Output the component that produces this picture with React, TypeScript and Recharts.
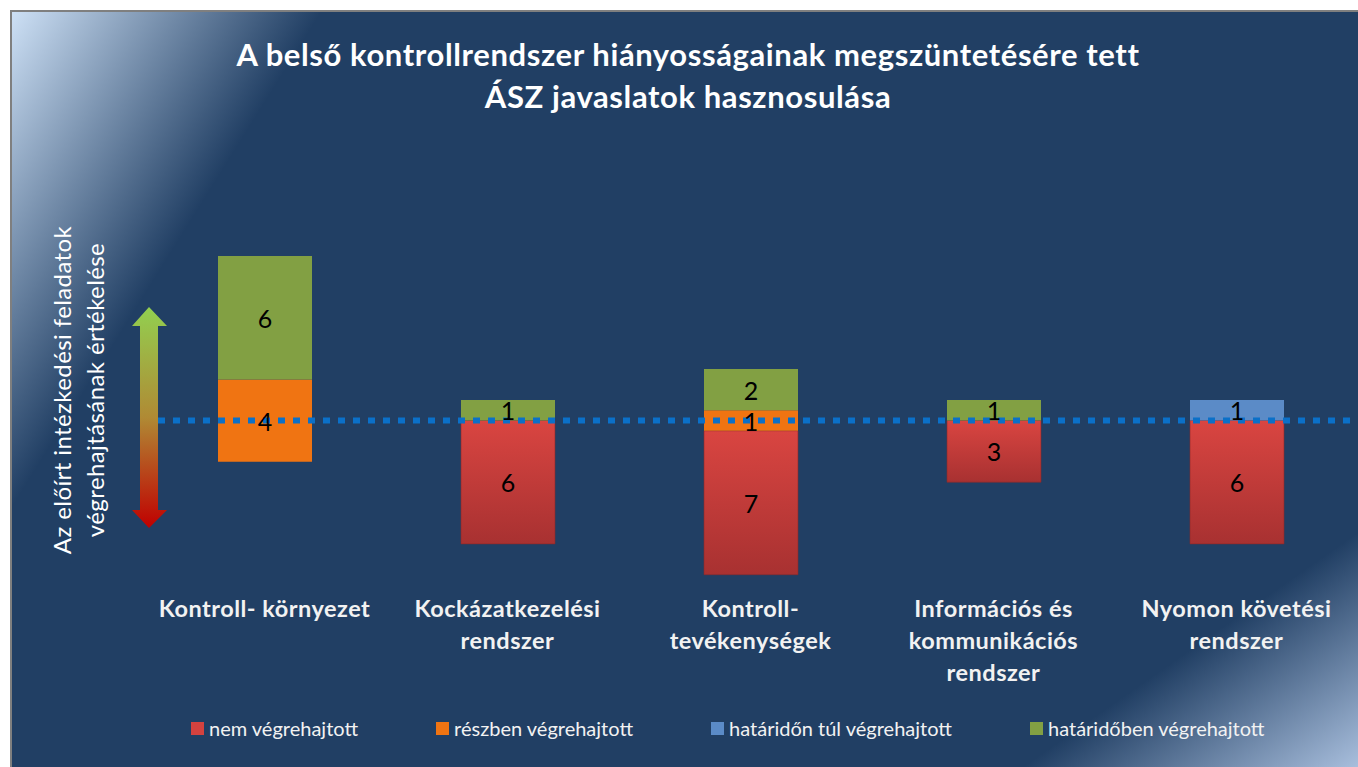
import { BarChart, Bar, XAxis, YAxis, ReferenceLine, LabelList, Legend } from 'recharts'

const categories = [
  'Kontroll- környezet',
  'Kockázatkezelési\nrendszer',
  'Kontroll-\ntevékenységek',
  'Információs és\nkommunikációs\nrendszer',
  'Nyomon követési\nrendszer',
]
const notDone = [0, 6, 7, 3, 6]
const partlyDone = [4, 0, 1, 0, 0]
const lateDone = [0, 0, 0, 0, 1]
const onTimeDone = [6, 1, 2, 1, 0]

const seriesNames = ['nem végrehajtott', 'részben végrehajtott', 'határidőn túl végrehajtott', 'határidőben végrehajtott']
const seriesColors = ['#d4423f', '#f07412', '#5b8bc7', '#82a043']

const FONT = 'Lato, "Open Sans", sans-serif'

// orange straddles the baseline, red hangs below it, blue + green sit on top
const data = categories.map((name, i) => {
  const half = partlyDone[i] / 2
  const top1 = half + lateDone[i]
  return {
    name,
    red: [-half - notDone[i], -half],
    orange: [-half, half],
    blue: [half, top1],
    green: [top1, top1 + onTimeDone[i]],
    redN: notDone[i],
    orangeN: partlyDone[i],
    blueN: lateDone[i],
    greenN: onTimeDone[i],
  }
})

const SegmentLabel = (props: any) => {
  const { x, y, width, height, value } = props
  if (!value) return null
  return (
    <text x={x + width / 2} y={y + height / 2} textAnchor="middle" dominantBaseline="central"
      fontSize={25} fontFamily={FONT} fill="#000">{value}</text>
  )
}

const CategoryTick = ({ x, y, payload }: any) => {
  const lines = String(payload.value).split('\n')
  return (
    <text x={x} y={y} textAnchor="middle" fill="#f2f2f2" fontSize={23.5} fontWeight={700}
      fontFamily={FONT} letterSpacing={0.5}>
      {lines.map((l, i) => (
        <tspan key={i} x={x} dy={32}>{l}</tspan>
      ))}
    </text>
  )
}

const LegendContent = () => (
  <div style={{ display: 'flex', gap: 78, fontFamily: FONT, fontSize: 20, color: '#f2f2f2', whiteSpace: 'nowrap' }}>
    {seriesNames.map((n, i) => (
      <div key={n} style={{ display: 'flex', alignItems: 'center', gap: 5 }}>
        <span style={{ width: 13, height: 13, background: seriesColors[i], display: 'inline-block' }} />
        <span>{n}</span>
      </div>
    ))}
  </div>
)

export default function App() {
  return (
    <div style={{ position: 'relative', width: 1358, height: 767, overflow: 'hidden' }}>
      <style>{'body{margin:0}'}</style>
      <div style={{
        position: 'absolute', left: 10, top: 10, width: 1348, height: 757,
        borderLeft: '2px solid #7f7f7f', borderTop: '2px solid #7f7f7f',
        background: 'linear-gradient(122deg, rgba(205,224,245,1) 0%, rgba(205,224,245,0) 17%), linear-gradient(145deg, rgba(170,192,222,0) 86%, rgba(170,192,222,1) 100%), #213f64',
      }} />

      <div style={{
        position: 'absolute', left: 0, top: 33, width: 1376, textAlign: 'center',
        fontFamily: FONT, fontWeight: 700, fontSize: 31, lineHeight: '42px', color: '#fff', letterSpacing: 0.6,
      }}>
        A belső kontrollrendszer hiányosságainak megszüntetésére tett<br />ÁSZ javaslatok hasznosulása
      </div>

      <div style={{
        position: 'absolute', left: 78, top: 390, width: 420, transform: 'translate(-50%, -50%) rotate(-90deg)',
        textAlign: 'center', fontFamily: FONT, fontSize: 24, lineHeight: '33px', color: '#fff', letterSpacing: 0.4,
      }}>
        Az előírt intézkedési feladatok<br />végrehajtásának értékelése
      </div>

      <div style={{ position: 'absolute', left: 0, top: 0 }}>
        <BarChart width={1358} height={767} data={data} barGap={-94} barSize={94}
          margin={{ top: 256, right: 0, left: 143, bottom: 82 }}>
          <defs>
            <linearGradient id="redGrad" x1="0" y1="0" x2="0" y2="1">
              <stop offset="0%" stopColor="#d94541" />
              <stop offset="100%" stopColor="#a83131" />
            </linearGradient>
          </defs>
          <XAxis dataKey="name" axisLine={false} tickLine={false} tickSize={0} tickMargin={0} height={100}
            interval={0} tick={<CategoryTick />} />
          <YAxis hide domain={[-8, 8]} />
          <Bar dataKey="red" name={seriesNames[0]} fill="url(#redGrad)" stroke="#8c2a2a" strokeWidth={0.6} isAnimationActive={false}>
            <LabelList dataKey="redN" content={<SegmentLabel />} />
          </Bar>
          <Bar dataKey="orange" name={seriesNames[1]} fill={seriesColors[1]} isAnimationActive={false}>
            <LabelList dataKey="orangeN" content={<SegmentLabel />} />
          </Bar>
          <Bar dataKey="blue" name={seriesNames[2]} fill={seriesColors[2]} isAnimationActive={false}>
            <LabelList dataKey="blueN" content={<SegmentLabel />} />
          </Bar>
          <Bar dataKey="green" name={seriesNames[3]} fill={seriesColors[3]} isAnimationActive={false}>
            <LabelList dataKey="greenN" content={<SegmentLabel />} />
          </Bar>
          <ReferenceLine y={0} stroke="#0b70c8" strokeWidth={6} strokeDasharray="7 8" />
          <Legend layout="horizontal" verticalAlign="middle" align="center" content={<LegendContent />}
            wrapperStyle={{ position: 'absolute', left: 191, top: 716, width: 'auto', height: 'auto' }} />
        </BarChart>
      </div>

      <svg style={{ position: 'absolute', left: 128, top: 300 }} width={44} height={235}>
        <defs>
          <linearGradient id="arrowGrad" x1="0" y1="0" x2="0" y2="1">
            <stop offset="0%" stopColor="#92d050" />
            <stop offset="50%" stopColor="#b08a34" />
            <stop offset="100%" stopColor="#c00000" />
          </linearGradient>
        </defs>
        <polygon points="21,7 39,26 30,26 30,210 39,210 21,228 4,210 12,210 12,26 4,26"
          fill="url(#arrowGrad)" />
      </svg>
    </div>
  )
}
